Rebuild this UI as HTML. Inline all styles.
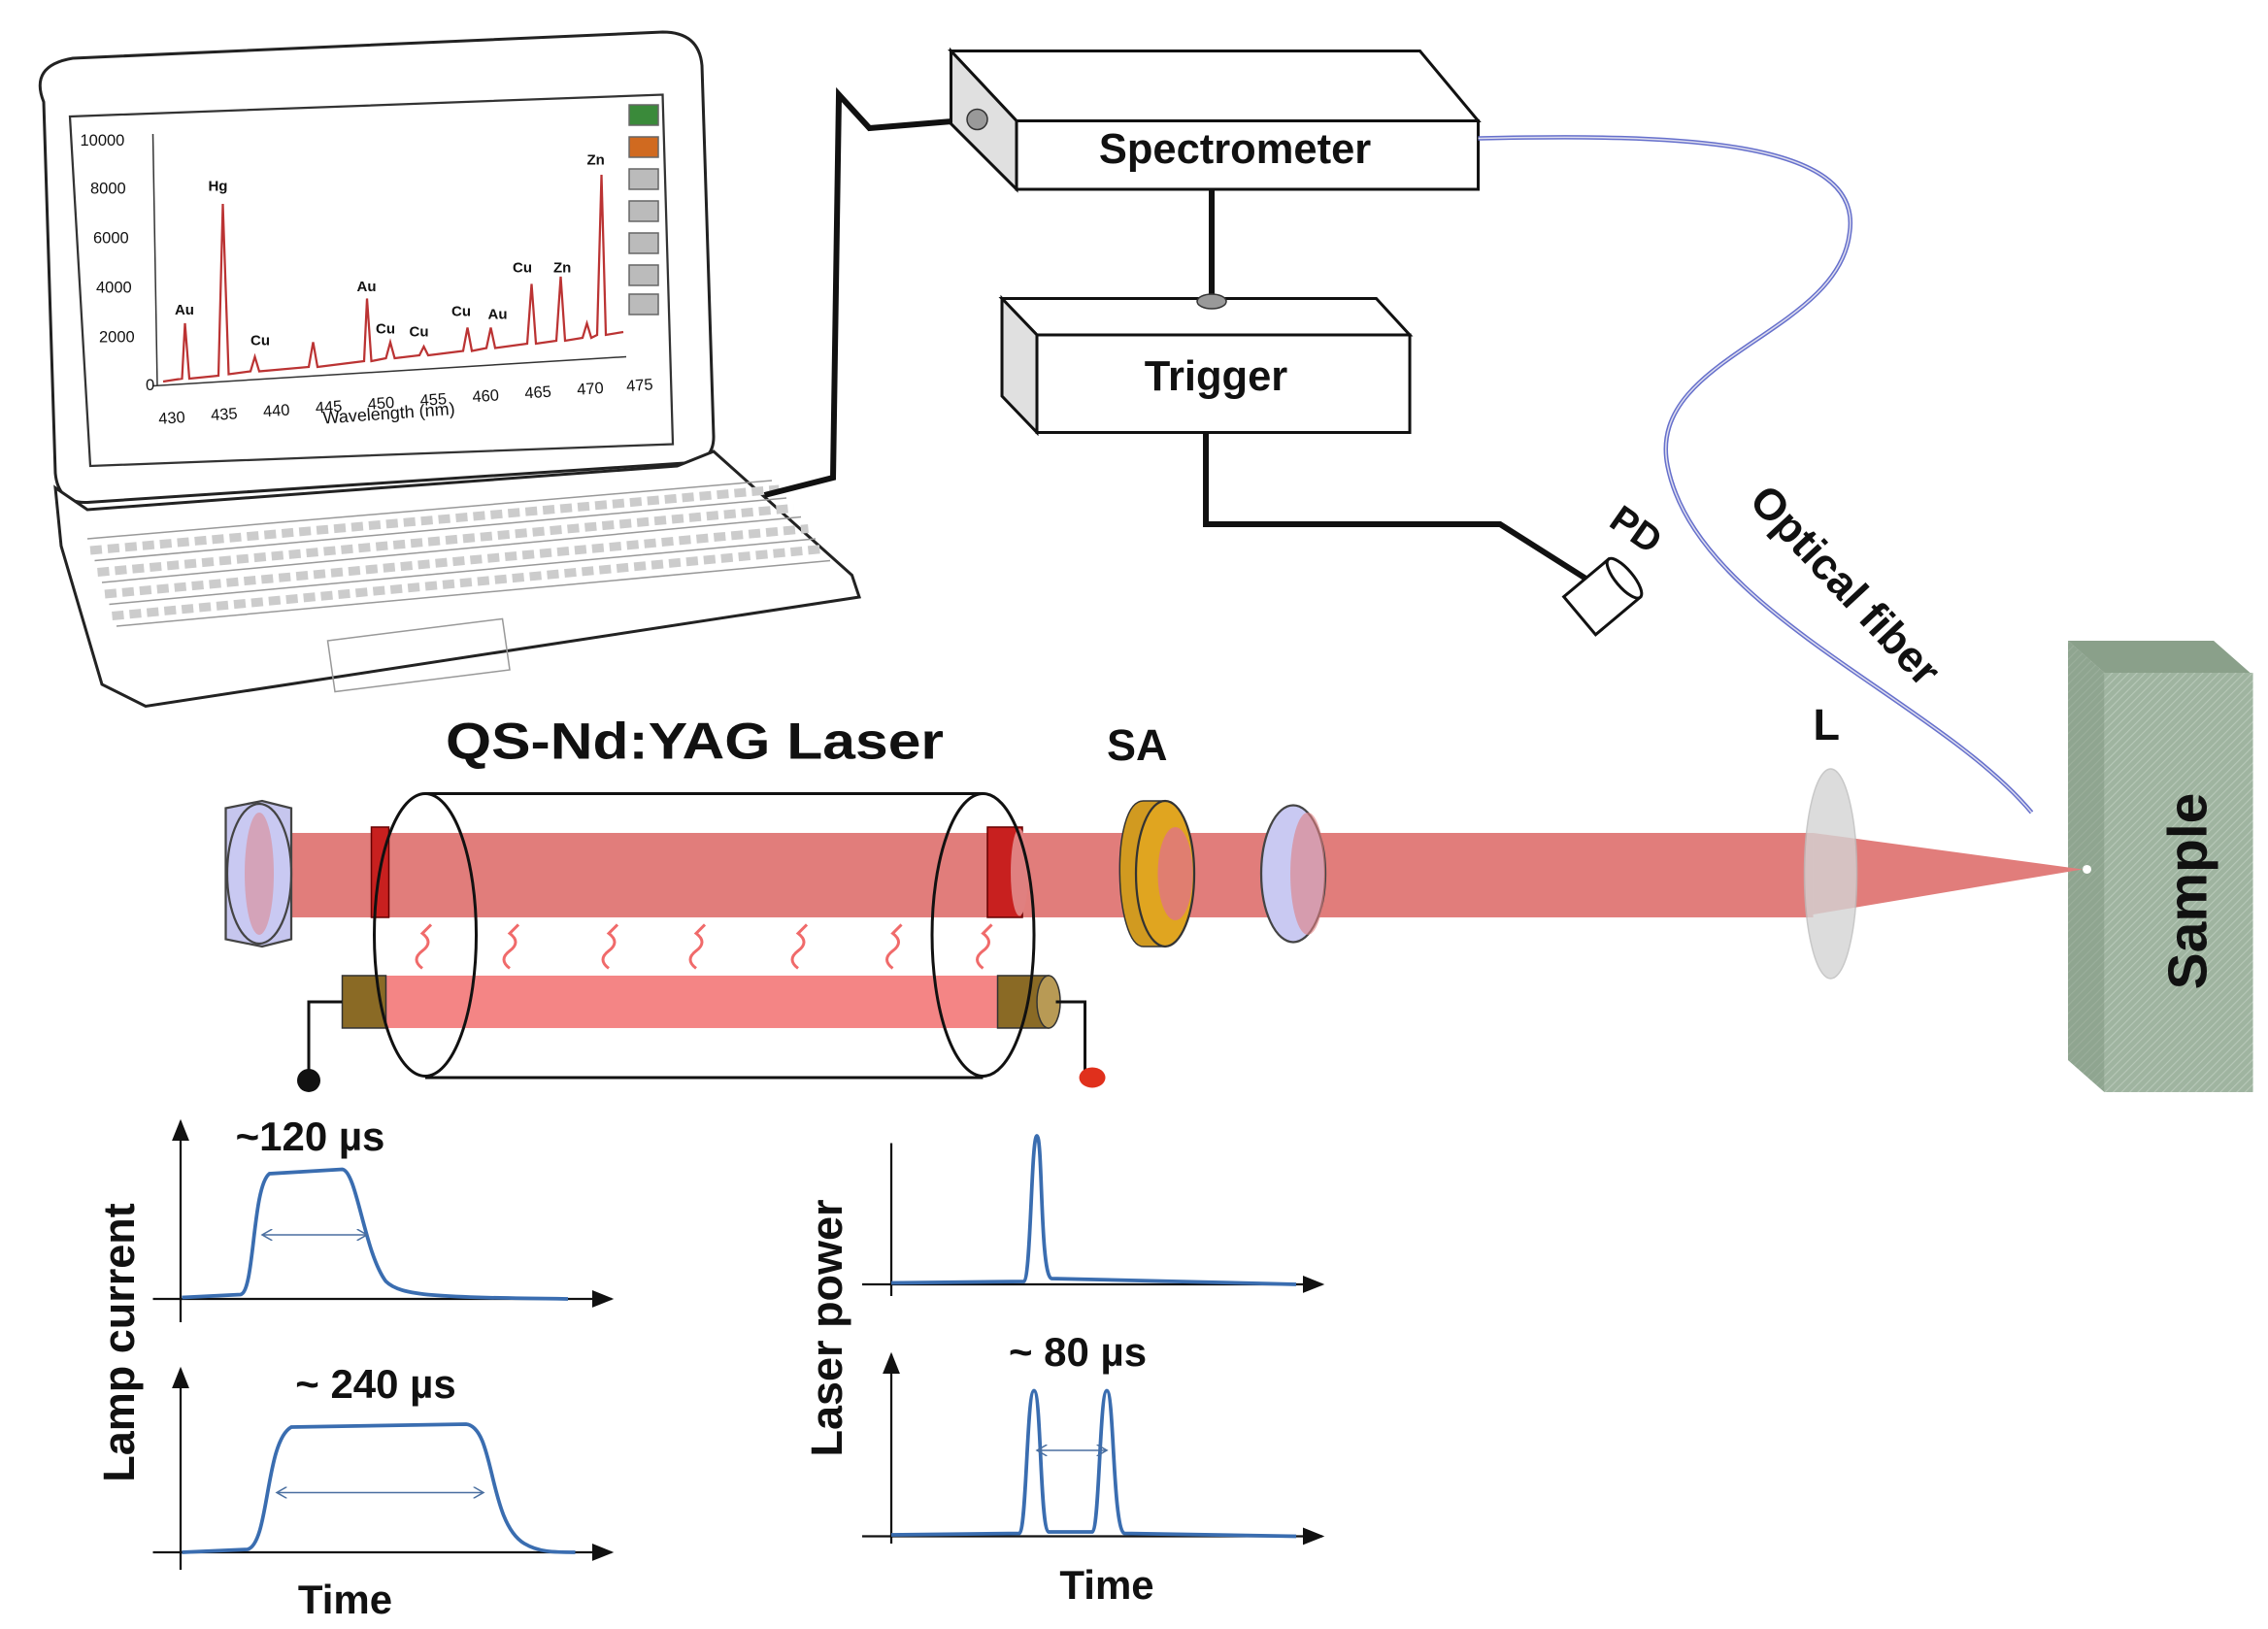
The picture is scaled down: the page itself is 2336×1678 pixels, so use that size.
<!DOCTYPE html>
<html><head><meta charset="utf-8"><style>
html,body{margin:0;padding:0;background:#fff;}
svg{display:block;}
text{font-family:"Liberation Sans",Arial,sans-serif;font-weight:bold;fill:#111;}
</style></head><body>
<svg width="2336" height="1678" viewBox="0 0 1557.3 1118.7" preserveAspectRatio="none" xmlns="http://www.w3.org/2000/svg">
<defs>
<marker id="ar" markerWidth="10" markerHeight="8" refX="9" refY="4" orient="auto"><path d="M0,0 L10,4 L0,8 Z" fill="#111"/></marker>
<marker id="sa" markerWidth="8" markerHeight="8" refX="7" refY="4" orient="auto"><path d="M0,0 L7,4 L0,8" fill="none" stroke="#4a6fa0" stroke-width="1"/></marker>
<marker id="sb" markerWidth="8" markerHeight="8" refX="1" refY="4" orient="auto"><path d="M8,0 L1,4 L8,8" fill="none" stroke="#4a6fa0" stroke-width="1"/></marker>
<pattern id="hatch" width="4" height="4" patternUnits="userSpaceOnUse" patternTransform="rotate(45)"><rect width="4" height="4" fill="#9fb4a0"/><line x1="0" y1="0" x2="0" y2="4" stroke="#b7c8b8" stroke-width="1.5"/></pattern>
</defs>

<!-- Laptop -->
<path d="M30,70 Q20,45 50,40 L455,22 Q480,22 482,45 L490,300 Q490,318 470,318 L60,345 Q40,346 38,325 Z" fill="#fff" stroke="#222" stroke-width="2"/>
<path d="M48,80 L455,65 L462,305 L62,320 Z" fill="#fff" stroke="#333" stroke-width="1.5"/>
<path d="M38,335 L60,350 L465,320 L490,310 L585,395 L590,410 L100,485 L70,470 L42,375 Z" fill="#fff" stroke="#222" stroke-width="2"/>
<g stroke="#999" stroke-width="1" fill="none">
<path d="M60,370 L530,330"/><path d="M65,385 L540,342"/><path d="M70,400 L550,355"/><path d="M75,415 L560,370"/><path d="M80,430 L570,385"/>
<path d="M225,440 L345,425 L350,460 L230,475 Z"/>
</g>
<g stroke="#ccc" stroke-width="6" stroke-dasharray="8 4"><path d="M62,378 L535,336"/><path d="M67,393 L545,349"/><path d="M72,408 L555,363"/><path d="M77,423 L565,377"/></g>
<!-- spectrum -->
<line x1="105" y1="92" x2="108" y2="265" stroke="#333" stroke-width="1"/>
<line x1="105" y1="265" x2="430" y2="245" stroke="#333" stroke-width="1"/>
<g style="font-weight:normal">
<text x="55" y="100" font-size="11" style="font-weight:normal">10000</text>
<text x="62" y="133" font-size="11" style="font-weight:normal">8000</text>
<text x="64" y="167" font-size="11" style="font-weight:normal">6000</text>
<text x="66" y="201" font-size="11" style="font-weight:normal">4000</text>
<text x="68" y="235" font-size="11" style="font-weight:normal">2000</text>
<text x="100" y="268" font-size="11" style="font-weight:normal">0</text>
<g font-size="11" transform="rotate(-4 270 270)">
<text x="108" y="280" font-size="11" style="font-weight:normal">430</text><text x="144" y="280" font-size="11" style="font-weight:normal">435</text>
<text x="180" y="280" font-size="11" style="font-weight:normal">440</text><text x="216" y="280" font-size="11" style="font-weight:normal">445</text>
<text x="252" y="280" font-size="11" style="font-weight:normal">450</text><text x="288" y="280" font-size="11" style="font-weight:normal">455</text>
<text x="324" y="280" font-size="11" style="font-weight:normal">460</text><text x="360" y="280" font-size="11" style="font-weight:normal">465</text>
<text x="396" y="280" font-size="11" style="font-weight:normal">470</text><text x="430" y="280" font-size="11" style="font-weight:normal">475</text>
</g>
<text x="222" y="291" font-size="12" style="font-weight:normal" transform="rotate(-4 222 291)">Wavelength (nm)</text>
</g>
<path d="M112,262 L125,260 L127,222 L130,260 L150,258 L153,140 L157,257 L172,255 L175,245 L178,255 L212,252 L215,235 L218,252 L250,248 L252,205 L255,248 L265,246 L268,235 L271,246 L288,244 L291,238 L294,244 L318,241 L321,225 L324,241 L334,239 L337,225 L340,239 L362,236 L365,195 L368,236 L382,234 L385,190 L388,234 L400,232 L403,222 L406,232 L410,230 L413,120 L416,230 L428,228" fill="none" stroke="#b33" stroke-width="1.5"/>
<g><text x="120" y="216" font-size="10">Au</text><text x="143" y="131" font-size="10">Hg</text><text x="172" y="237" font-size="10">Cu</text><text x="245" y="200" font-size="10">Au</text><text x="258" y="229" font-size="10">Cu</text><text x="281" y="231" font-size="10">Cu</text><text x="310" y="217" font-size="10">Cu</text><text x="335" y="219" font-size="10">Au</text><text x="352" y="187" font-size="10">Cu</text><text x="380" y="187" font-size="10">Zn</text><text x="403" y="113" font-size="10">Zn</text></g>
<g stroke="#666" stroke-width="1">
<rect x="432" y="72" width="20" height="14" fill="#3a8a3a"/><rect x="432" y="94" width="20" height="14" fill="#d06a20"/>
<rect x="432" y="116" width="20" height="14" fill="#bbb"/><rect x="432" y="138" width="20" height="14" fill="#bbb"/>
<rect x="432" y="160" width="20" height="14" fill="#bbb"/><rect x="432" y="182" width="20" height="14" fill="#bbb"/><rect x="432" y="202" width="20" height="14" fill="#bbb"/>
</g>

<!-- cable laptop to spectrometer -->
<path d="M525,340 L572,328 L576,65 L597,88 L670,82" fill="none" stroke="#111" stroke-width="4"/>

<!-- Spectrometer box -->
<path d="M653,35 L975,35 L1015,83 L698,83 Z" fill="#fff" stroke="#111" stroke-width="2"/>
<path d="M653,35 L698,83 L698,130 L653,85 Z" fill="#e0e0e0" stroke="#111" stroke-width="2"/>
<rect x="698" y="83" width="317" height="47" fill="#fff" stroke="#111" stroke-width="2"/>
<circle cx="671" cy="82" r="7" fill="#999" stroke="#333"/>
<text x="848" y="112" font-size="29" text-anchor="middle">Spectrometer</text>
<line x1="832" y1="130" x2="832" y2="205" stroke="#111" stroke-width="4"/>

<!-- Trigger box -->
<path d="M688,205 L945,205 L968,230 L712,230 Z" fill="#fff" stroke="#111" stroke-width="2"/>
<path d="M688,205 L712,230 L712,297 L688,272 Z" fill="#e0e0e0" stroke="#111" stroke-width="2"/>
<rect x="712" y="230" width="256" height="67" fill="#fff" stroke="#111" stroke-width="2"/>
<ellipse cx="832" cy="207" rx="10" ry="5" fill="#999" stroke="#333"/>
<text x="835" y="268" font-size="29" text-anchor="middle">Trigger</text>
<path d="M828,297 L828,360 L1030,360 L1090,398" fill="none" stroke="#111" stroke-width="4"/>
<!-- PD -->
<g transform="rotate(-40 1100 410)"><rect x="1080" y="393" width="40" height="34" fill="#fff" stroke="#111" stroke-width="2"/><ellipse cx="1120" cy="410" rx="6" ry="17" fill="#fff" stroke="#111" stroke-width="2"/></g>
<text x="1100" y="372" font-size="26" transform="rotate(35 1120 372)">PD</text>

<!-- Optical fiber -->
<path d="M1015,95 C1150,92 1280,95 1270,160 C1262,230 1130,245 1145,320 C1165,420 1330,480 1395,558" fill="none" stroke="#6670cc" stroke-width="3"/>
<path d="M1015,95 C1150,92 1280,95 1270,160 C1262,230 1130,245 1145,320 C1165,420 1330,480 1395,558" fill="none" stroke="#dde" stroke-width="1"/>
<text x="1200" y="345" font-size="30" transform="rotate(47 1200 345)">Optical fiber</text>

<!-- Sample -->
<path d="M1420,440 L1445,462 L1545,462 L1520,440 Z" fill="#8aa08a"/>
<path d="M1420,440 L1445,462 L1445,750 L1420,728 Z" fill="#7f957f"/>
<rect x="1445" y="462" width="102" height="288" fill="url(#hatch)"/>
<path d="M1420,440 L1445,462 L1445,750 L1420,728 Z" fill="url(#hatch)" opacity="0.5"/>
<text x="1515" y="612" font-size="38" text-anchor="middle" transform="rotate(-90 1515 612)">Sample</text>
<circle cx="1433" cy="597" r="3" fill="#fff"/>

<!-- Laser beam -->
<rect x="180" y="572" width="1065" height="58" fill="#e17d7b"/>
<path d="M1245,572 L1430,597 L1245,628 Z" fill="#e17d7b"/>
<ellipse cx="1257" cy="600" rx="18" ry="72" fill="#d4d4d4" opacity="0.8" stroke="#bbb"/>
<text x="1245" y="508" font-size="30">L</text>

<!-- mirrors -->
<path d="M155,555 L180,550 L200,555 L200,645 L180,650 L155,645 Z" fill="#c6c6ee" stroke="#444" stroke-width="1.5"/>
<ellipse cx="178" cy="600" rx="22" ry="48" fill="#c9c9f2" stroke="#444" stroke-width="1.5"/>
<ellipse cx="178" cy="600" rx="10" ry="42" fill="#e07e80" opacity="0.5"/>
<ellipse cx="888" cy="600" rx="22" ry="47" fill="#c9c9f2" stroke="#444" stroke-width="1.5"/>
<ellipse cx="898" cy="600" rx="12" ry="42" fill="#e07e80" opacity="0.6"/>

<!-- SA -->
<path d="M785,550 L800,550 C815,550 818,650 800,650 L785,650 C765,650 762,550 785,550Z" fill="#d19a20" stroke="#333"/>
<ellipse cx="800" cy="600" rx="20" ry="50" fill="#e0a520" stroke="#333" stroke-width="1.5"/>
<ellipse cx="807" cy="600" rx="12" ry="32" fill="#e07e70"/>
<text x="760" y="522" font-size="30">SA</text>

<rect x="255" y="568" width="12" height="62" fill="#c8201f" stroke="#600"/>
<rect x="678" y="568" width="24" height="62" fill="#c8201f" stroke="#600"/>
<ellipse cx="700" cy="599" rx="6" ry="30" fill="#e08080"/>

<!-- flash lamp -->
<rect x="262" y="670" width="430" height="36" fill="#f48585"/>
<rect x="235" y="670" width="30" height="36" fill="#8a6a25" stroke="#333"/>
<rect x="685" y="670" width="35" height="36" fill="#8a6a25" stroke="#333"/>
<ellipse cx="720" cy="688" rx="8" ry="18" fill="#b89a55" stroke="#333"/>
<path d="M235,688 L212,688 L212,740" fill="none" stroke="#111" stroke-width="2"/>
<circle cx="212" cy="742" r="8" fill="#111"/>
<path d="M725,688 L745,688 L745,740" fill="none" stroke="#111" stroke-width="2"/>
<ellipse cx="750" cy="740" rx="9" ry="7" fill="#e0301c"/>
<g fill="none" stroke="#f06a6a" stroke-width="2">
<path d="M290,665 q-8,-6 0,-12 q8,-6 0,-12 l6,-6"/><path d="M350,665 q-8,-6 0,-12 q8,-6 0,-12 l6,-6"/>
<path d="M418,665 q-8,-6 0,-12 q8,-6 0,-12 l6,-6"/><path d="M478,665 q-8,-6 0,-12 q8,-6 0,-12 l6,-6"/>
<path d="M548,665 q-8,-6 0,-12 q8,-6 0,-12 l6,-6"/><path d="M613,665 q-8,-6 0,-12 q8,-6 0,-12 l6,-6"/>
<path d="M675,665 q-8,-6 0,-12 q8,-6 0,-12 l6,-6"/>
</g>
<path d="M292,545 L675,545 M292,740 L675,740" stroke="#111" stroke-width="2" fill="none"/>
<ellipse cx="292" cy="642" rx="35" ry="97" fill="none" stroke="#111" stroke-width="2"/>
<ellipse cx="675" cy="642" rx="35" ry="97" fill="none" stroke="#111" stroke-width="2"/>
<text x="477" y="521" font-size="35" text-anchor="middle" textLength="342" lengthAdjust="spacingAndGlyphs">QS-Nd:YAG Laser</text>

<!-- Graphs -->
<g stroke="#111" stroke-width="1.5" fill="none">
<line x1="124" y1="908" x2="124" y2="770" marker-end="url(#ar)"/>
<line x1="105" y1="892" x2="420" y2="892" marker-end="url(#ar)"/>
<line x1="124" y1="1078" x2="124" y2="940" marker-end="url(#ar)"/>
<line x1="105" y1="1066" x2="420" y2="1066" marker-end="url(#ar)"/>
<line x1="612" y1="890" x2="612" y2="785"/>
<line x1="592" y1="882" x2="908" y2="882" marker-end="url(#ar)"/>
<line x1="612" y1="1060" x2="612" y2="930" marker-end="url(#ar)"/>
<line x1="592" y1="1055" x2="908" y2="1055" marker-end="url(#ar)"/>
</g>
<g fill="none" stroke="#3a6db0" stroke-width="2.5">
<path d="M125,891 L165,889 C175,888 173,815 185,806 L235,803 C245,804 250,860 265,880 C275,890 300,891 390,892"/>
<path d="M125,1066 L170,1064 C185,1060 182,990 200,980 L320,978 C340,980 335,1045 360,1060 C370,1066 380,1066 395,1066"/>
<path d="M612,881 L703,880 C708,878 708,780 712,780 C716,780 714,876 722,878 L890,882"/>
<path d="M612,1054 L700,1053 C705,1050 705,955 710,955 C715,955 714,1050 720,1052 L750,1052 C755,1050 755,955 760,955 C765,955 764,1050 772,1053 L890,1055"/>
</g>
<g stroke="#4a6fa0" stroke-width="1">
<line x1="180" y1="848" x2="252" y2="848" marker-start="url(#sb)" marker-end="url(#sa)"/>
<line x1="190" y1="1025" x2="332" y2="1025" marker-start="url(#sb)" marker-end="url(#sa)"/>
<line x1="712" y1="996" x2="760" y2="996" marker-start="url(#sb)" marker-end="url(#sa)"/>
</g>
<text x="213" y="790" font-size="28" text-anchor="middle">~120 µs</text>
<text x="258" y="960" font-size="28" text-anchor="middle">~ 240 µs</text>
<text x="740" y="938" font-size="28" text-anchor="middle">~ 80 µs</text>
<text x="237" y="1108" font-size="28" text-anchor="middle">Time</text>
<text x="760" y="1098" font-size="28" text-anchor="middle">Time</text>
<text x="92" y="922" font-size="30" text-anchor="middle" transform="rotate(-90 92 922)">Lamp current</text>
<text x="578" y="912" font-size="30" text-anchor="middle" transform="rotate(-90 578 912)">Laser power</text>
</svg>
</body></html>
